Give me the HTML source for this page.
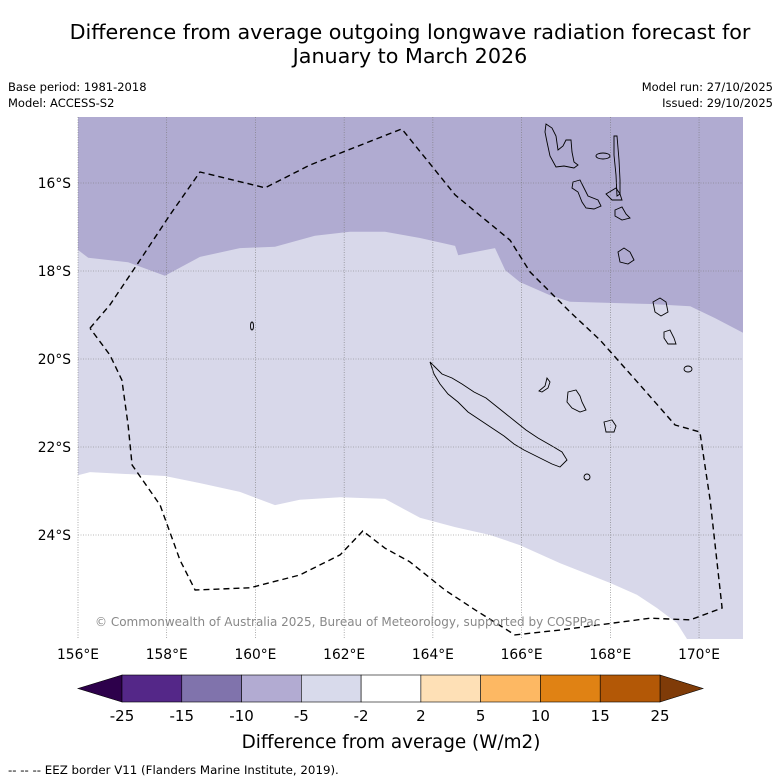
<!DOCTYPE html>
<html><head><meta charset="utf-8"><style>
body{margin:0;background:#fff;font-family:"DejaVu Sans","Liberation Sans",sans-serif;}
svg{display:block}
</style></head><body>
<svg id="c" width="781" height="781" viewBox="0 0 781 781" font-family="DejaVu Sans, Liberation Sans, sans-serif">
<text x="410" y="39" font-size="20.7" text-anchor="middle">Difference from average outgoing longwave radiation forecast for</text>
<text x="410" y="63" font-size="20.7" text-anchor="middle">January to March 2026</text>
<text x="8" y="91" font-size="11.5">Base period: 1981-2018</text>
<text x="8" y="107" font-size="11.5">Model: ACCESS-S2</text>
<text x="773" y="91" font-size="11.5" text-anchor="end">Model run: 27/10/2025</text>
<text x="773" y="107" font-size="11.5" text-anchor="end">Issued: 29/10/2025</text>
<defs><clipPath id="mc"><rect x="78" y="117" width="665" height="522"/></clipPath></defs>
<g id="map" clip-path="url(#mc)">
<rect x="78" y="117" width="665" height="522" fill="#d8d8ea"/>
</g>
<g id="coast" clip-path="url(#mc)" fill="none" stroke="#000" stroke-width="0.9">
<path d="M430,362 L436,368 442,374 452,378 462,384 474,392 486,398 496,406 506,414 516,422 526,430 538,438 552,446 562,452 567,460 560,467 552,464 544,460 536,456 524,450 514,444 504,436 492,428 480,420 468,412 458,402 448,394 440,384 434,374 Z"/>
<path d="M546,124 L552,128 556,136 558,150 563,146 566,140 571,140 572,152 574,162 578,165 574,168 564,166 556,167 550,156 547,142 545,132 Z"/>
<path d="M573,182 L580,180 584,188 588,196 598,200 601,206 594,209 586,208 582,202 578,192 572,188 Z"/>
<ellipse cx="603" cy="156" rx="7" ry="3"/>
<path d="M614,136 L617,136 619,160 620,180 620,194 617,196 616,175 614,155 Z"/>
<path d="M606,194 L616,188 620,194 622,200 612,200 Z"/>
<path d="M615,210 L622,207 626,214 630,218 622,220 615,216 Z"/>
<path d="M618,252 L624,248 630,252 634,260 628,264 620,262 Z"/>
<path d="M653,302 L660,298 666,302 668,312 661,316 655,312 Z"/>
<path d="M664,332 L670,330 674,338 676,344 668,344 664,338 Z"/>
<ellipse cx="688" cy="369" rx="4" ry="3"/>
<path d="M547,378 L550,382 548,388 542,392 539,391 545,386 Z"/>
<path d="M568,392 L576,390 580,396 582,402 586,410 580,412 572,408 567,402 Z"/>
<path d="M604,422 L612,420 616,426 614,432 606,432 Z"/>
<ellipse cx="587" cy="477" rx="3" ry="3"/>
<ellipse cx="252" cy="326" rx="1.5" ry="4"/>
</g>
<g id="grid"></g>
<g id="eez"></g>
<text x="95" y="626" font-size="12" fill="#888">© Commonwealth of Australia 2025, Bureau of Meteorology, supported by COSPPac</text>
<g id="axes" font-size="13.8"></g>
<g id="cbar"></g>
<text x="391" y="748" font-size="18.4" text-anchor="middle">Difference from average (W/m2)</text>
<text x="8" y="774" font-size="11.8">--  --  -- EEZ border V11 (Flanders Marine Institute, 2019).</text>
</svg>
<script>
const lonTicks=[156,158,160,162,164,166,168,170];
const latTicks=[16,18,20,22,24];
// purple (-10..-5) region lower boundary, [lon, lat]
const bandTopLon=[156,156.23,157.13,157.96,158.75,159.65,160.44,161.34,162.13,162.92,163.71,164.5,164.57,165.4,165.63,165.96,166.64,167.09,168.9,169.8,170.36,171];
const bandTopLat=[-17.52,-17.7,-17.8,-18.11,-17.68,-17.48,-17.45,-17.2,-17.11,-17.11,-17.25,-17.43,-17.64,-17.48,-17.98,-18.25,-18.55,-18.7,-18.75,-18.8,-19.07,-19.41];
// white (-2..2) region upper boundary
const bandLowLon=[156,156.27,157.96,158.75,159.65,160.44,161.0,161.91,162.92,163.71,164.5,165.29,165.96,166.87,168.0,168.6,169.05,169.5,169.75];
const bandLowLat=[-22.64,-22.57,-22.66,-22.82,-23.02,-23.32,-23.2,-23.14,-23.18,-23.61,-23.82,-24.0,-24.23,-24.64,-25.09,-25.36,-25.66,-26.0,-26.4];
// EEZ border
const eezLon=[156.27,156.72,157.4,158.07,158.75,160.22,161.23,163.3,164.5,165.74,166.19,167.09,167.77,168.67,169.46,170.02,170.25,170.52,169.8,168.9,166.87,165.85,164.95,164.27,163.48,162.92,162.42,161.91,161.0,159.88,158.64,158.3,157.85,157.22,157.13,156.99,156.72,156.27];
const eezLat=[-19.3,-18.77,-17.75,-16.73,-15.75,-16.11,-15.59,-14.77,-16.27,-17.3,-18.02,-18.93,-19.57,-20.59,-21.5,-21.66,-23.2,-25.66,-25.93,-25.89,-26.16,-26.27,-25.7,-25.25,-24.61,-24.3,-23.91,-24.45,-24.91,-25.2,-25.25,-24.57,-23.32,-22.41,-21.5,-20.48,-19.91,-19.3];
// colorbar
const cbTicks=["-25","-15","-10","-5","-2","2","5","10","15","25"];
const cbColors=["#542788","#8073ac","#b2abd2","#d8daeb","#ffffff","#fee0b6","#fdb863","#e08214","#b35806"];
const cbUnder="#2d004b", cbOver="#7f3b08";

const NS="http://www.w3.org/2000/svg";
const X=lon=>78+(lon-156)*44.36;
const Y=lat=>183+(-lat-16)*44;
function mk(tag,parent,attrs){const e=document.createElementNS(NS,tag);for(const k in attrs)e.setAttribute(k,attrs[k]);document.getElementById(parent).appendChild(e);return e;}
function pts(lo,la){return lo.map((v,i)=>X(v).toFixed(1)+","+Y(la[i]).toFixed(1));}

let p=pts(bandTopLon,bandTopLat);p.push(X(171)+","+Y(-14),X(156)+","+Y(-14));
let e=mk("polygon","map",{points:p.join(" "),fill:"#b0abd1"});


p=pts(bandLowLon,bandLowLat);p.push(X(169.75)+","+Y(-27),X(156)+","+Y(-27));
e=mk("polygon","map",{points:p.join(" "),fill:"#ffffff"});



lonTicks.forEach(l=>{const g=mk("line","grid",{x1:X(l),x2:X(l),y1:117,y2:639,stroke:"#777","stroke-width":0.6,"stroke-dasharray":"1,1.5"});


const t=mk("text","axes",{x:X(l),y:659,"text-anchor":"middle"});t.textContent=l+"°E";

});
latTicks.forEach(l=>{const g=mk("line","grid",{x1:78,x2:743,y1:Y(-l),y2:Y(-l),stroke:"#777","stroke-width":0.6,"stroke-dasharray":"1,1.5"});


const t=mk("text","axes",{x:71,y:Y(-l)+5,"text-anchor":"end"});t.textContent=l+"°S";

});

e=mk("polyline","eez",{points:pts(eezLon,eezLat).join(" "),fill:"none",stroke:"#000","stroke-width":1.4,"stroke-dasharray":"6,4"});



const cx0=122,cx1=660,cy0=675,cy1=702,w=(cx1-cx0)/cbColors.length;
e=mk("polygon","cbar",{points:`${cx0},${cy0} 78,${(cy0+cy1)/2} ${cx0},${cy1}`,fill:cbUnder,stroke:"#000","stroke-width":0.6});


e=mk("polygon","cbar",{points:`${cx1},${cy0} 703,${(cy0+cy1)/2} ${cx1},${cy1}`,fill:cbOver,stroke:"#000","stroke-width":0.6});


cbColors.forEach((c,i)=>{const r=mk("rect","cbar",{x:cx0+i*w,y:cy0,width:w,height:cy1-cy0,fill:c,stroke:"#000","stroke-width":0.6});

});
cbTicks.forEach((t,i)=>{const tx=mk("text","cbar",{x:cx0+i*w,y:721,"font-size":15,"text-anchor":"middle"});tx.textContent=t;

});
</script>
</body></html>
